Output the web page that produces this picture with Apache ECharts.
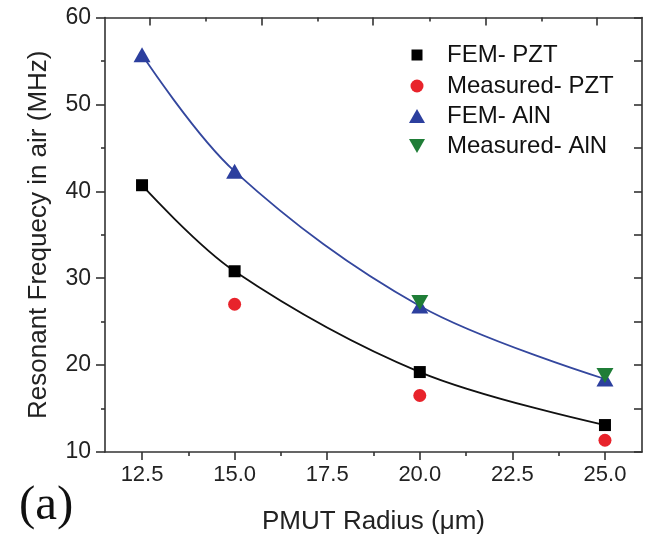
<!DOCTYPE html>
<html>
<head>
<meta charset="utf-8">
<script src="https://cdn.jsdelivr.net/npm/echarts@6/dist/echarts.min.js"></script>
<style>
  html, body { margin: 0; padding: 0; background: #fff; }
  #chart { width: 657px; height: 540px; }
</style>
</head>
<body>
<div id="chart"></div>
<script>
// PMUT radius (µm) and resonant frequency in air (MHz)
const radius = [12.5, 15, 20, 25];
const femPZT = [40.7, 30.8, 19.2, 13.1];
const measRadiusPZT = [15, 20, 25];
const measPZT = [27.0, 16.5, 11.35];
const femAlN = [55.7, 42.3, 26.8, 18.4];
const measRadiusAlN = [20, 25];
const measAlN = [27.2, 18.8];

const xMajor = [12.5, 15, 17.5, 20, 22.5, 25];
const xMinor = [13.75, 16.25, 18.75, 21.25, 23.75];
// tick marks along the top frame
const topMajor = [12.72, 15.74, 18.74, 21.79, 24.79];
const topMinor = [14.22, 17.25, 20.28, 23.30];

const FONT = '"Liberation Sans", Arial, sans-serif';
const frame = { color: '#333', width: 1.6 };

const pairs = (xs, ys) => xs.map((x, i) => [x, ys[i]]);
const invTri = 'path://M0,0 L10,0 L5,8.66 Z';

const chart = echarts.init(document.getElementById('chart'));

function tickAxis(position, values, length, inside, line) {
  return {
    type: 'value', position, min: 11.5, max: 26,
    axisLine: { show: line, onZero: false, lineStyle: frame },
    axisTick: { show: true, inside, length, customValues: values, lineStyle: frame },
    axisLabel: { show: false },
    splitLine: { show: false }
  };
}

const legendRows = [
  { name: 'FEM- PZT', icon: 'rect', w: 11, h: 11, y: 49 },
  { name: 'Measured- PZT', icon: 'circle', w: 13, h: 13, y: 80 },
  { name: 'FEM- AlN', icon: 'triangle', w: 16, h: 14, y: 110 },
  { name: 'Measured- AlN', icon: invTri, w: 16, h: 14, y: 140 }
];

chart.setOption({
  animation: false,
  backgroundColor: '#fff',
  grid: { left: 105, right: 15, top: 17.5, bottom: 86, containLabel: false },
  legend: legendRows.map(r => ({
    data: [{ name: r.name, icon: r.icon }],
    left: 412 - r.w / 2,
    top: r.y - 11,
    itemWidth: r.w,
    itemHeight: r.h,
    symbolKeepAspect: false,
    selectedMode: false,
    textStyle: {
      fontFamily: FONT, fontSize: 24, color: '#111', lineHeight: 22,
      padding: [0, 0, 0, 447 - (412 + r.w / 2) - 10]
    }
  })),
  xAxis: [
    {
      type: 'value', position: 'bottom', min: 11.5, max: 26,
      name: 'PMUT Radius (\u03bcm)', nameLocation: 'middle', nameGap: 57,
      nameTextStyle: { fontFamily: FONT, fontSize: 26, color: '#222' },
      axisLine: { show: true, onZero: false, lineStyle: frame },
      axisTick: { show: true, inside: false, length: 8, customValues: xMajor, lineStyle: frame },
      axisLabel: {
        customValues: xMajor, margin: 12,
        fontFamily: FONT, fontSize: 22, color: '#222',
        formatter: v => v.toFixed(1)
      },
      splitLine: { show: false }
    },
    tickAxis('bottom', xMinor, 4, false, false),
    tickAxis('top', topMajor, 8, true, true),
    tickAxis('top', topMinor, 4, true, false)
  ],
  yAxis: [
    {
      type: 'value', position: 'left', min: 10, max: 60, interval: 10,
      name: 'Resonant Frequecy in air (MHz)', nameLocation: 'middle', nameGap: 53,
      nameTextStyle: { fontFamily: FONT, fontSize: 26, color: '#222' },
      axisLine: { show: true, onZero: false, lineStyle: frame },
      axisTick: { show: true, inside: false, length: 9, lineStyle: frame },
      minorTick: { show: true, splitNumber: 2, length: 4, lineStyle: frame },
      axisLabel: { margin: 14, fontFamily: FONT, fontSize: 23, color: '#222' },
      splitLine: { show: false }
    },
    {
      type: 'value', position: 'right', min: 10, max: 60, interval: 5,
      axisLine: { show: true, onZero: false, lineStyle: frame },
      axisTick: { show: true, inside: true, length: 8, lineStyle: frame },
      axisLabel: { show: false },
      splitLine: { show: false }
    }
  ],
  series: [
    {
      type: 'line', data: pairs(radius, femPZT), smooth: 0.35,
      showSymbol: false, silent: true,
      lineStyle: { color: '#111', width: 1.8 }, z: 2
    },
    {
      type: 'line', data: pairs(radius, femAlN), smooth: 0.35,
      showSymbol: false, silent: true,
      lineStyle: { color: '#34479e', width: 1.8 }, z: 2
    },
    {
      name: 'FEM- PZT', type: 'scatter', data: pairs(radius, femPZT),
      symbol: 'rect', symbolSize: 12, itemStyle: { color: '#000', opacity: 1 }, z: 3
    },
    {
      name: 'Measured- PZT', type: 'scatter', data: pairs(measRadiusPZT, measPZT),
      symbol: 'circle', symbolSize: 13, itemStyle: { color: '#e8232b', opacity: 1 }, z: 3
    },
    {
      name: 'FEM- AlN', type: 'scatter', data: pairs(radius, femAlN),
      symbol: 'triangle', symbolSize: [17, 15], itemStyle: { color: '#2c3f9e', opacity: 1 }, z: 3
    },
    {
      name: 'Measured- AlN', type: 'scatter', data: pairs(measRadiusAlN, measAlN),
      symbol: invTri, symbolSize: [17, 15], symbolKeepAspect: false,
      itemStyle: { color: '#1f7d37', opacity: 1 }, z: 4
    }
  ],
  graphic: [
    {
      type: 'text', left: 19, top: 482,
      style: { text: '(a)', font: '49px "Liberation Serif", "Times New Roman", serif', fill: '#111' }
    }
  ]
});
</script>
</body>
</html>
